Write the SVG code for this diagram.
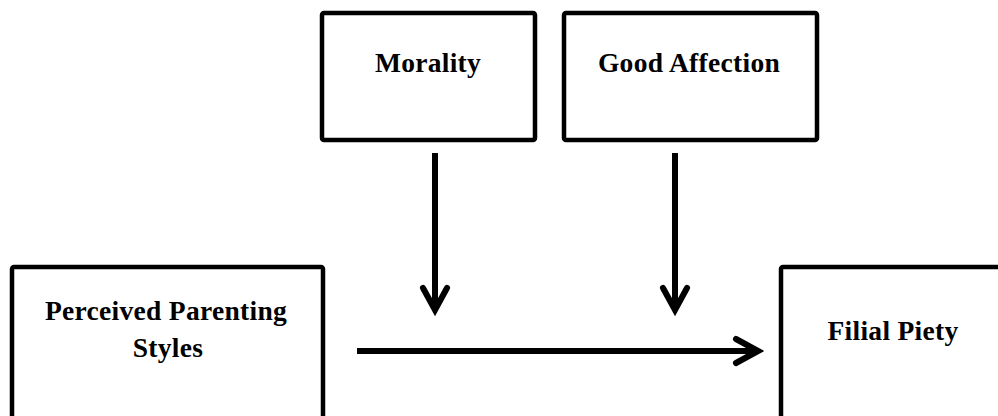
<svg xmlns="http://www.w3.org/2000/svg" width="998" height="416" viewBox="0 0 998 416">
<style>
.box{fill:#fff;stroke:#000;stroke-width:4.5}
.lbl{font-family:"Liberation Serif","Times New Roman",serif;font-weight:bold;font-size:27.5px;letter-spacing:0.3px;fill:#000;text-anchor:middle}
.conn{stroke:#000;stroke-width:6;fill:none}
</style>
<defs>
<marker id="chev" markerUnits="userSpaceOnUse" viewBox="-30 -16 36 32" refX="0" refY="0" markerWidth="36" markerHeight="32" orient="auto" overflow="visible">
<path d="M-22,-12 L0,0 L-22,12" fill="none" stroke="#000" stroke-width="6" stroke-linecap="round" stroke-linejoin="miter"/>
</marker>
</defs>
<rect width="998" height="416" fill="#fff"/>
<g id="morality">
<rect class="box" x="322" y="13" width="213" height="127" rx="2"/>
<text class="lbl" x="428" y="72">Morality</text>
</g>
<g id="good-affection">
<rect class="box" x="564" y="13" width="253" height="127" rx="2"/>
<text class="lbl" x="689" y="72">Good Affection</text>
</g>
<g id="perceived-parenting-styles">
<rect class="box" x="12" y="267" width="311" height="160" rx="2"/>
<text class="lbl" x="166" y="320">Perceived Parenting</text>
<text class="lbl" x="168" y="357">Styles</text>
</g>
<g id="filial-piety">
<rect class="box" x="781" y="267" width="230" height="160" rx="2"/>
<text class="lbl" x="893" y="340">Filial Piety</text>
</g>
<g id="connectors">
<line class="conn" x1="435" y1="153" x2="435" y2="310" marker-end="url(#chev)"/>
<line class="conn" x1="675" y1="153" x2="675" y2="310" marker-end="url(#chev)"/>
<line class="conn" x1="357" y1="351" x2="758" y2="351" marker-end="url(#chev)"/>
</g>
</svg>
